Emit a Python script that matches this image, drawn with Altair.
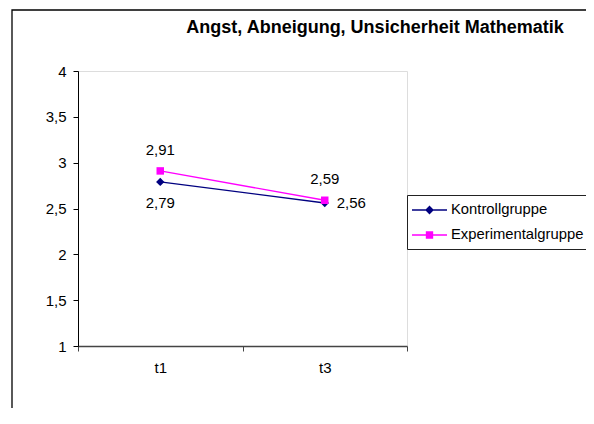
import altair as alt
import pandas as pd

zeit = ["t1", "t3"]
gruppen = ["Kontrollgruppe", "Experimentalgruppe"]
kontroll = [2.79, 2.56]
experimental = [2.91, 2.59]
farben = ["#000080", "#FF00FF"]
y_ticks = [1, 1.5, 2, 2.5, 3, 3.5, 4]
titel = "Angst, Abneigung, Unsicherheit Mathematik"

rows = []
for g, werte in zip(gruppen, [kontroll, experimental]):
    for z, w in zip(zeit, werte):
        rows.append({"Gruppe": g, "Zeit": z, "Wert": w})
df = pd.DataFrame(rows)

FONT = "Liberation Sans"

# legend symbols: line with marker (custom paths)
diamond_path = "M-2.19,-0.09L2.19,-0.09L2.19,0.09L-2.19,0.09Z M0,-0.55L0.55,0L0,0.55L-0.55,0Z"
square_path = "M-2.19,-0.09L2.19,-0.09L2.19,0.09L-2.19,0.09Z M-0.46,-0.46L0.46,-0.46L0.46,0.46L-0.46,0.46Z"

x_enc = alt.X("Zeit:N", sort=zeit,
              scale=alt.Scale(domain=zeit, paddingInner=0, paddingOuter=0),
              axis=alt.Axis(title=None, labelAngle=0, tickBand="extent", tickSize=5,
                            tickColor="#444", domainColor="#444", domainWidth=1.6,
                            labelPadding=9, labelFontSize=15, labelColor="black",
                            labelFont=FONT, grid=False))
y_enc = alt.Y("Wert:Q", scale=alt.Scale(domain=[1, 4], nice=False, zero=False),
              axis=alt.Axis(title=None, values=y_ticks, grid=False, tickSize=5,
                            tickColor="black", domainColor="black",
                            labelPadding=7, labelFontSize=15, labelColor="black",
                            labelFont=FONT,
                            labelExpr="replace(toString(datum.value), '.', ',')"))

base = alt.Chart(df)

frame = alt.Chart(alt.Data(values=[{"a": 1}])).mark_rect(
    fill="transparent", stroke="black", strokeWidth=1.3
).encode(x=alt.value(-66), x2=alt.value(560), y=alt.value(-61), y2=alt.value(400))

layers = [frame]
shapes = ["diamond", "square"]
sizes = [70, 56]
for g, col, shp, sz in zip(gruppen, farben, shapes, sizes):
    sub = base.transform_filter(alt.datum.Gruppe == g)
    layers.append(sub.mark_line(strokeWidth=1.3, color=col).encode(x=x_enc, y=y_enc))
    layers.append(sub.mark_point(shape=shp, filled=True, size=sz, opacity=1, color=col)
                  .encode(x=x_enc, y=y_enc))

legend_layer = base.transform_filter("false").mark_point(filled=True, opacity=1).encode(
    color=alt.Color("Gruppe:N", scale=alt.Scale(domain=gruppen, range=farben),
                    legend=alt.Legend(orient="none", legendX=329, legendY=124, title=None,
                                      strokeColor="#222", fillColor="white", padding=7,
                                      symbolSize=256, symbolStrokeWidth=0, symbolOffset=7.5,
                                      labelOffset=13.5, labelFontSize=14.8, labelFont=FONT,
                                      labelColor="black", rowPadding=10, labelLimit=400)),
    shape=alt.Shape("Gruppe:N", scale=alt.Scale(domain=gruppen, range=[diamond_path, square_path])),
)
layers.append(legend_layer)

label_expr = "replace(format(datum.Wert, '.2f'), '.', ',')"
txt = base.transform_calculate(Label=label_expr)
layers.append(txt.transform_filter(alt.datum.Gruppe == gruppen[1]).mark_text(
    dy=-21, fontSize=15, font=FONT, color="black").encode(x=x_enc, y=y_enc, text="Label:N"))
layers.append(txt.transform_filter((alt.datum.Gruppe == gruppen[0]) & (alt.datum.Zeit == zeit[0])).mark_text(
    dy=21, fontSize=15, font=FONT, color="black").encode(x=x_enc, y=y_enc, text="Label:N"))
layers.append(txt.transform_filter((alt.datum.Gruppe == gruppen[0]) & (alt.datum.Zeit == zeit[1])).mark_text(
    dx=12, align="left", fontSize=15, font=FONT, color="black").encode(x=x_enc, y=y_enc, text="Label:N"))

chart = alt.layer(*layers).properties(
    width=329, height=275,
    title=alt.Title(titel, anchor="middle", frame="group", dx=132.5, offset=-41.6, baseline="alphabetic",
                    fontSize=18, font=FONT, fontWeight="bold", color="black"),
    autosize=alt.AutoSizeParams(type="none"),
    padding={"left": 70, "top": 63, "right": 179, "bottom": 62},
).configure_view(stroke="#333", strokeWidth=1.2).configure(background="white")

chart.save("out.html", embed_options={"renderer": "svg", "actions": False})
